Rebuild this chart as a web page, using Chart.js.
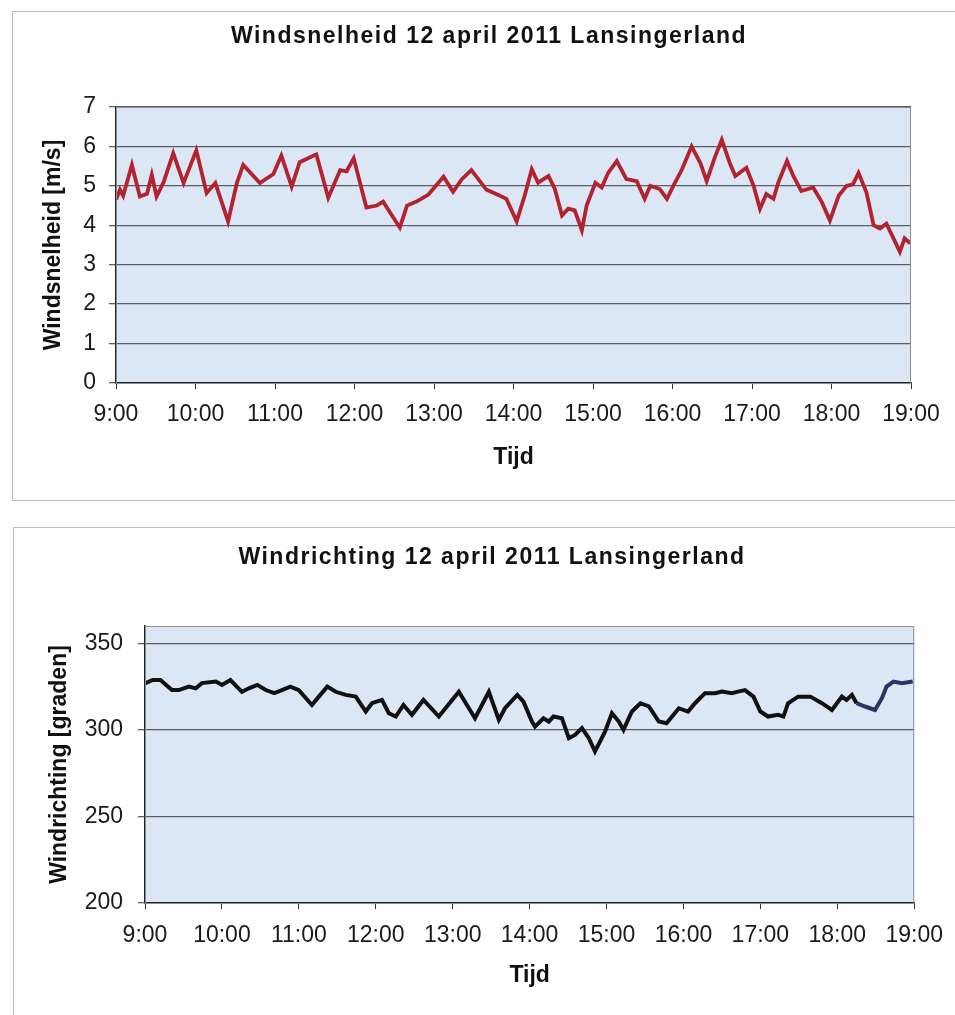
<!DOCTYPE html>
<html>
<head>
<meta charset="utf-8">
<script src="https://cdn.jsdelivr.net/npm/chart.js@4.4.1/dist/chart.umd.min.js"></script>
<style>
  body { margin: 0; background: #fff; }
  .box { position: absolute; border: 1px solid #b8bcc4; background: #fff; }
  #box1 { left: 12px; top: 11px; width: 943px; height: 488px; }
  #box2 { left: 13px; top: 527px; width: 942px; height: 488px; }
</style>
</head>
<body>
<div class="box" id="box1"><canvas id="speedChart" width="943" height="488"></canvas></div>
<div class="box" id="box2"><canvas id="dirChart" width="942" height="488"></canvas></div>
<script>
// tijd in uren (9.5 = 9:30)
var speedTimes = [9.00, 9.05, 9.09, 9.20, 9.30, 9.39, 9.45, 9.51, 9.60, 9.72, 9.85, 10.01, 10.14, 10.25, 10.41, 10.52, 10.60, 10.81, 10.98,
    11.08, 11.21, 11.31, 11.52, 11.67, 11.82, 11.90, 11.99, 12.15, 12.28, 12.36, 12.57, 12.66, 12.78, 12.93, 13.12, 13.24, 13.35, 13.47,
    13.66, 13.83, 13.91, 14.04, 14.14, 14.23, 14.31, 14.44, 14.52, 14.61, 14.69, 14.77, 14.86, 14.92, 15.03, 15.11, 15.19, 15.30, 15.42,
    15.55, 15.65, 15.72, 15.84, 15.93, 16.01, 16.12, 16.24, 16.35, 16.43, 16.53, 16.62, 16.72, 16.79, 16.93, 17.02, 17.10, 17.18, 17.27,
    17.33, 17.44, 17.52, 17.62, 17.77, 17.88, 17.98, 18.09, 18.19, 18.27, 18.34, 18.44, 18.53, 18.61, 18.69, 18.76, 18.86, 18.92, 18.99];
var speedValues = [4.65, 4.90, 4.75, 5.53, 4.73, 4.80, 5.28, 4.73, 5.10, 5.83, 5.07, 5.90, 4.82, 5.07, 4.10, 5.07, 5.53, 5.07, 5.30,
    5.77, 4.98, 5.60, 5.80, 4.70, 5.40, 5.37, 5.70, 4.45, 4.50, 4.60, 3.94, 4.50, 4.60, 4.78, 5.23, 4.85, 5.17, 5.40,
    4.90, 4.75, 4.67, 4.10, 4.75, 5.42, 5.08, 5.25, 4.92, 4.25, 4.42, 4.38, 3.87, 4.50, 5.08, 4.96, 5.33, 5.63, 5.17,
    5.12, 4.67, 5.00, 4.92, 4.67, 5.00, 5.42, 6.00, 5.58, 5.12, 5.71, 6.17, 5.58, 5.25, 5.46, 5.00, 4.42, 4.79, 4.67,
    5.08, 5.63, 5.25, 4.87, 4.96, 4.58, 4.12, 4.75, 5.00, 5.04, 5.33, 4.83, 4.00, 3.92, 4.04, 3.75, 3.33, 3.67, 3.54];

var dirTimes = [9.00, 9.10, 9.20, 9.35, 9.44, 9.57, 9.66, 9.74, 9.92, 10.00, 10.11, 10.26, 10.35, 10.46, 10.57, 10.68, 10.78, 10.89,
    11.00, 11.17, 11.26, 11.37, 11.48, 11.61, 11.74, 11.87, 11.95, 12.08, 12.17, 12.26, 12.36, 12.47, 12.62, 12.82, 13.08, 13.29,
    13.47, 13.60, 13.68, 13.84, 13.92, 14.03, 14.07, 14.18, 14.25, 14.31, 14.42, 14.51, 14.59, 14.68, 14.77, 14.85, 14.98, 15.07,
    15.16, 15.22, 15.33, 15.44, 15.55, 15.68, 15.78, 15.94, 16.06, 16.15, 16.28, 16.41, 16.50, 16.63, 16.71, 16.80, 16.91, 17.00,
    17.10, 17.23, 17.30, 17.36, 17.49, 17.65, 17.80, 17.93, 18.06, 18.12, 18.19, 18.25, 18.36, 18.49, 18.58, 18.64, 18.73, 18.84, 18.98];
var dirValues = [326.9, 328.8, 328.8, 323, 323, 325, 324, 327, 327.9, 326, 328.8, 322, 324, 326, 323, 321.2, 323, 325,
    323, 314.4, 319.2, 325, 322, 320.2, 319.2, 310.6, 315.4, 317.3, 309.6, 307.7, 314.4, 308.7, 317.3, 307.7, 322, 306.7,
    322, 305.8, 312.5, 320.2, 316.3, 304.8, 301.9, 306.7, 304.8, 307.7, 306.7, 295.2, 297.1, 301, 295.2, 287.5, 299, 309.6,
    304.8, 300, 310.6, 315.4, 313.5, 304.8, 303.8, 312.5, 310.6, 315.4, 321.2, 321.2, 322.1, 321.2, 322.1, 323, 319.2, 310.6,
    307.7, 308.7, 307.7, 315.4, 319.2, 319.2, 315.4, 311.5, 319.2, 317.3, 320.2, 315.4, 313.5, 311.5, 318.3, 325, 327.9, 326.9, 327.9];

var hourTicks = [9, 10, 11, 12, 13, 14, 15, 16, 17, 18, 19];
var hourLabels = ['9:00', '10:00', '11:00', '12:00', '13:00', '14:00', '15:00', '16:00', '17:00', '18:00', '19:00'];
var speedTicks = [0, 1, 2, 3, 4, 5, 6, 7];
var dirTicks = [200, 250, 300, 350];
var blueFrom = 18.2;

function points(xs, ys) {
    return xs.map((x, i) => ({ x: x, y: ys[i] }));
}

var font = 'Liberation Sans';

var plotBg = {
    id: 'plotBg',
    beforeDraw(chart) {
        var a = chart.chartArea;
        var ctx = chart.ctx;
        ctx.save();
        ctx.fillStyle = '#dbe7f5';
        ctx.fillRect(a.left, a.top, a.right - a.left, a.bottom - a.top);
        ctx.restore();
    },
    afterDatasetsDraw(chart) {
        var a = chart.chartArea;
        var ctx = chart.ctx;
        ctx.save();
        ctx.strokeStyle = '#8a8f96';
        ctx.lineWidth = 1;
        ctx.strokeRect(a.left + 0.5, a.top + 0.5, a.right - a.left - 1, a.bottom - a.top);
        ctx.restore();
    }
};

// titel met wat letterafstand, zoals in het origineel
var spacedTitle = {
    id: 'spacedTitle',
    afterDraw(chart, args, opts) {
        var ctx = chart.ctx;
        ctx.save();
        ctx.font = 'bold 23px "' + font + '"';
        ctx.letterSpacing = '1.5px';
        ctx.fillStyle = '#111';
        ctx.textAlign = 'center';
        ctx.textBaseline = 'middle';
        ctx.fillText(opts.text, opts.x, opts.y);
        ctx.restore();
    }
};

function options(title, yTitle, yMin, yMax, yTickList, pad) {
    return {
        responsive: false,
        animation: false,
        layout: { padding: pad.layout },
        plugins: {
            legend: { display: false },
            tooltip: { enabled: false },
            title: { display: false },
            spacedTitle: { text: title, x: pad.titleX, y: pad.titleY }
        },
        elements: { point: { radius: 0 } },
        scales: {
            x: {
                type: 'linear',
                min: 9,
                max: 19,
                afterBuildTicks: s => { s.ticks = hourTicks.map(v => ({ value: v })); },
                afterFit: s => { s.height = pad.xHeight; },
                ticks: {
                    color: '#1a1a1a',
                    font: { family: font, size: 23 },
                    padding: pad.xTickPad,
                    maxRotation: 0,
                    autoSkip: false,
                    callback: v => hourLabels[hourTicks.indexOf(v)]
                },
                grid: { display: true, drawOnChartArea: false, color: '#333', tickLength: 6 },
                border: { display: true, color: '#222', width: 1.5 },
                title: {
                    display: true,
                    text: 'Tijd',
                    color: '#111',
                    font: { family: font, size: 23, weight: 'bold' },
                    padding: { top: 0, bottom: pad.xTitleBottom }
                }
            },
            y: {
                min: yMin,
                max: yMax,
                afterBuildTicks: s => { s.ticks = yTickList.map(v => ({ value: v })); },
                afterFit: s => { s.width = pad.yWidth; },
                ticks: {
                    color: '#1a1a1a',
                    font: { family: font, size: 23 },
                    padding: pad.yTickPad
                },
                grid: { color: '#5a5e66', lineWidth: 1.3, tickLength: 7 },
                border: { display: true, color: '#222', width: 1.5 },
                title: {
                    display: true,
                    text: yTitle,
                    color: '#111',
                    font: { family: font, size: 23, weight: 'bold' },
                    padding: { top: pad.yTitleTop, bottom: 0 }
                }
            }
        }
    };
}

new Chart(document.getElementById('speedChart'), {
    type: 'line',
    data: {
        datasets: [{
            data: points(speedTimes, speedValues),
            borderColor: '#b3232f',
            borderWidth: 3.8,
            tension: 0
        }]
    },
    options: options('Windsnelheid 12 april 2011 Lansingerland', 'Windsnelheid [m/s]', 0, 7, speedTicks, {
        layout: { left: 0, right: 45, top: 95, bottom: 0 },
        titleX: 476, titleY: 25,
        yWidth: 103, yTickPad: 13, yTitleTop: 27,
        xHeight: 117, xTickPad: 12, xTitleBottom: 29
    }),
    plugins: [plotBg, spacedTitle]
});

new Chart(document.getElementById('dirChart'), {
    type: 'line',
    data: {
        datasets: [{
            data: points(dirTimes, dirValues),
            borderColor: '#111',
            borderWidth: 4,
            tension: 0,
            segment: {
                borderColor: c => c.p0.parsed.x >= blueFrom ? '#2a3563' : '#111'
            }
        }]
    },
    options: options('Windrichting 12 april 2011 Lansingerland', 'Windrichting [graden]', 200, 360, dirTicks, {
        layout: { left: 0, right: 40, top: 98, bottom: 0 },
        titleX: 478, titleY: 30,
        yWidth: 131, yTickPad: 15, yTitleTop: 32,
        xHeight: 113, xTickPad: 13, xTitleBottom: 27
    }),
    plugins: [plotBg, spacedTitle]
});
</script>
</body>
</html>
